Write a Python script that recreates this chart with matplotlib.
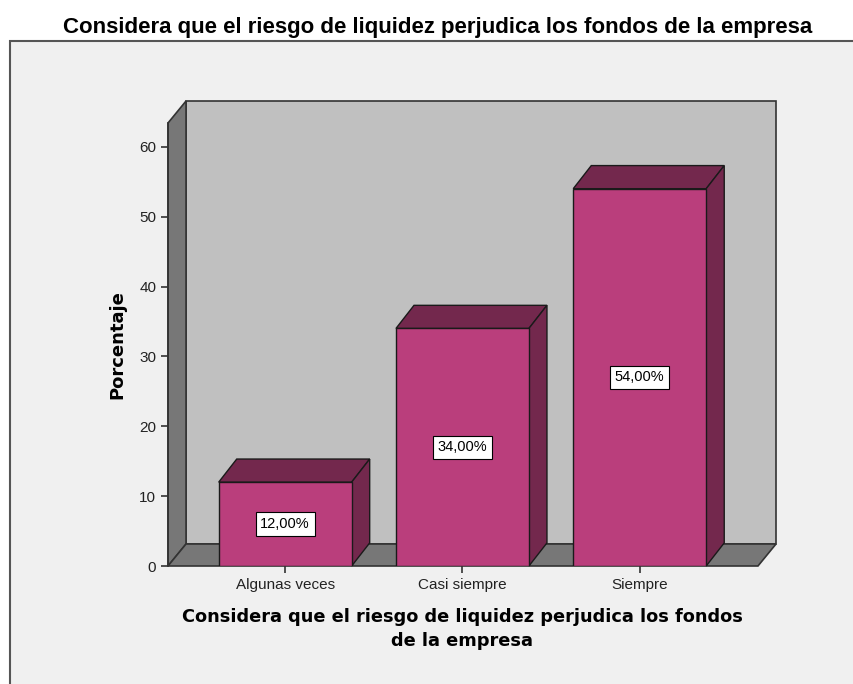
import numpy as np
import matplotlib.pyplot as plt
from matplotlib.patches import Polygon, Rectangle

# data
categories = ['Algunas veces', 'Casi siempre', 'Siempre']
percentages = [12.0, 34.0, 54.0]
bar_labels = ['12,00%', '34,00%', '54,00%']
y_ticks = [0, 10, 20, 30, 40, 50, 60]

title = 'Considera que el riesgo de liquidez perjudica los fondos de la empresa'
x_title = 'Considera que el riesgo de liquidez perjudica los fondos\nde la empresa'

plt.rcParams['font.family'] = ['Liberation Sans', 'DejaVu Sans']

# colours
front_col = '#BA3E7C'
dark_col = '#73284D'
wall_col = '#C0C0C0'
side_col = '#777777'
edge_col = '#1a1a1a'

fig = plt.figure(figsize=(8.54, 6.84), dpi=100)
fig.patch.set_facecolor('white')

# light grey chart frame
fig.patches.append(Rectangle((10 / 854, -0.02), 1.0, 0.96, transform=fig.transFigure,
                             facecolor='#F0F0F0', edgecolor='#555555', lw=1.5, zorder=-5))

fig.text(0.513, 0.9605, title, ha='center', va='center', fontsize=16, fontweight='bold')

ax = fig.add_axes([168 / 854, 1 - 566 / 684, (776 - 168) / 854, (566 - 101) / 684])
ax.set_zorder(2)
ax.set_facecolor('none')

x = np.arange(len(categories))
width = 0.75
x_left, x_right = -0.661, 2.667
y_top = 63.4
ddx, ddy = 0.1017, 3.15

ax.set_xlim(x_left, x_right + ddx)
ax.set_ylim(0, y_top + ddy)

# back wall, left wall, floor
ax.add_patch(Polygon([(x_left + ddx, ddy), (x_right + ddx, ddy), (x_right + ddx, y_top + ddy),
                      (x_left + ddx, y_top + ddy)], closed=True, fc=wall_col, ec='#333333',
                     lw=1.2, zorder=1, clip_on=False))
ax.add_patch(Polygon([(x_left, 0), (x_left, y_top), (x_left + ddx, y_top + ddy), (x_left + ddx, ddy)],
                     closed=True, fc=side_col, ec='#333333', lw=1.2, zorder=2, clip_on=False))
ax.add_patch(Polygon([(x_left, 0), (x_right, 0), (x_right + ddx, ddy), (x_left + ddx, ddy)],
                     closed=True, fc=side_col, ec='#333333', lw=1.2, zorder=2, clip_on=False))

# bars: front faces + top and side faces
ax.bar(x, percentages, width=width, color=front_col, edgecolor=edge_col, linewidth=1, zorder=4)
for xi, v, lab in zip(x, percentages, bar_labels):
    l, r = xi - width / 2, xi + width / 2
    ax.add_patch(Polygon([(l, v), (r, v), (r + ddx, v + ddy * 1.05), (l + ddx, v + ddy * 1.05)],
                         closed=True, fc=dark_col, ec=edge_col, lw=1, zorder=3, clip_on=False))
    ax.add_patch(Polygon([(r, 0), (r, v), (r + ddx, v + ddy * 1.05), (r + ddx, ddy * 1.05)],
                         closed=True, fc=dark_col, ec=edge_col, lw=1, zorder=3, clip_on=False))
    ax.text(xi, v / 2, lab, ha='center', va='center', fontsize=10.5, zorder=6,
            bbox=dict(boxstyle='square,pad=0.32', fc='white', ec='black', lw=0.8))

for s in ['top', 'right', 'bottom']:
    ax.spines[s].set_visible(False)
ax.spines['left'].set_bounds(0, y_top)
ax.spines['left'].set_color('#333333')
ax.spines['left'].set_linewidth(1.2)
ax.spines['left'].set_zorder(5)

ax.set_yticks(y_ticks)
ax.set_xticks(x)
ax.set_xticklabels(categories)
ax.tick_params(axis='both', direction='out', length=5, width=1.2, colors='#333333',
               labelsize=11, labelcolor='#222222')
ax.tick_params(axis='x', pad=4)

ax.set_ylabel('Porcentaje', fontsize=13, fontweight='bold', family='DejaVu Sans')
ax.yaxis.set_label_coords(-0.069, 0.477)
ax.set_xlabel(x_title, fontsize=12.8, fontweight='bold', linespacing=1.45,
              family='DejaVu Sans')
ax.xaxis.set_label_coords(0.4836, -0.09)

fig.savefig('out.png', dpi=100)
